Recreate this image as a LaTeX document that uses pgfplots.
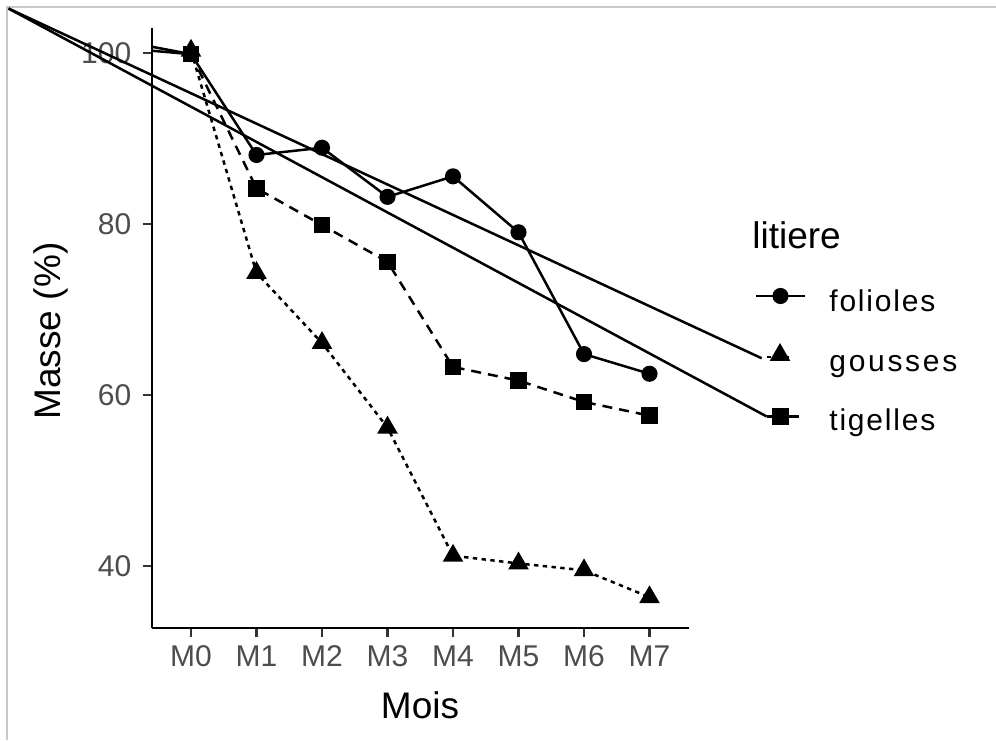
\documentclass[border=0pt]{standalone}
\usepackage{fontspec}
\setmainfont{Liberation Sans}
\usepackage{pgfplots}
\pgfplotsset{compat=1.18}
\definecolor{tickgray}{HTML}{4D4D4D}
\definecolor{bordergray}{HTML}{C8C8C8}
\begin{document}
\begin{tikzpicture}
\useasboundingbox (0,0) rectangle (498pt,-370pt);
\draw[bordergray, line width=1pt] (3.5pt,-370pt) -- (3.5pt,-3.5pt) -- (498pt,-3.5pt);
\begin{axis}[
  at={(75.85pt,-314.15pt)}, anchor=south west,
  scale only axis, width=268.55pt, height=300.15pt,
  xmin=-0.6, xmax=7.6, ymin=32.71, ymax=102.96,
  axis x line*=bottom, axis y line*=left,
  axis line style={line width=1.1pt, -},
  xtick={0,1,2,3,4,5,6,7},
  xticklabels={M0,M1,M2,M3,M4,M5,M6,M7},
  ytick={40,60,80,100},
  tick align=outside, major tick length=4.5pt,
  tick style={line width=1.1pt, color=black!80},
  ticklabel style={font=\fontsize{15}{15}\selectfont, text=tickgray, inner sep=0pt},
  xticklabel style={anchor=north, yshift=-4pt},
  yticklabel style={anchor=east, xshift=-5.5pt},
  /pgf/number format/assume math mode=true,
  clip=false,
  every axis plot/.append style={line width=1.25pt},
]
% data
\addplot[black, mark=*, mark size=3.4pt] coordinates
  {(0,99.9)(1,88.1)(2,88.95)(3,83.2)(4,85.6)(5,79.05)(6,64.8)(7,62.5)};
\addplot[black, dash pattern=on 2.2pt off 2.2pt, mark=triangle*, mark size=4.7pt, mark options={solid}] coordinates
  {(0,100.3)(1,74.3)(2,66.1)(3,56.2)(4,41.2)(5,40.3)(6,39.5)(7,36.35)};
\addplot[black, dash pattern=on 5pt off 3.5pt, mark=square*, mark size=3.5pt, mark options={solid}] coordinates
  {(0,99.9)(1,84.2)(2,79.9)(3,75.6)(4,63.3)(5,61.7)(6,59.2)(7,57.6)};
% stray segments from the axis edge to M0
\addplot[black] coordinates {(-0.6,100.77)(0,99.9)};
\addplot[black] coordinates {(-0.6,100.3)(0,99.9)};
% stray segments from the top-left corner to the legend keys
\addplot[black] coordinates {(-2.786,105.24)(8.713,64.31)};
\addplot[black] coordinates {(-2.786,105.24)(8.789,57.5)};
% legend keys
\addplot[black] coordinates {(8.626,71.6)(9.374,71.6)};
\addplot[black, only marks, mark=*, mark size=3.4pt] coordinates {(9.0,71.6)};
\addplot[black, dash pattern=on 2.2pt off 2.2pt] coordinates {(8.794,64.46)(9.191,64.46)};
\addplot[black, only marks, mark=triangle*, mark size=4.7pt] coordinates {(8.992,64.7)};
\addplot[black] coordinates {(8.789,57.5)(9.282,57.5)};
\addplot[black, only marks, mark=square*, mark size=3.5pt] coordinates {(9.0,57.5)};
\end{axis}
% titles
\node[anchor=base, inner sep=0pt, font=\fontsize{18.5}{18.5}\selectfont] at (210pt,-359pt) {Mois};
\node[anchor=base, rotate=90, inner sep=0pt, font=\fontsize{18.5}{18.5}\selectfont] at (30pt,-165.5pt) {Masse (\%)};
% legend text
\node[anchor=base west, inner sep=0pt, font=\fontsize{18.5}{18.5}\selectfont] at (376pt,-124.2pt) {litiere};
\node[anchor=base west, inner sep=0pt, font=\fontsize{15}{15}\selectfont\addfontfeature{LetterSpace=6}] at (414.5pt,-155.75pt) {folioles};
\node[anchor=base west, inner sep=0pt, font=\fontsize{15}{15}\selectfont\addfontfeature{LetterSpace=9}] at (414.5pt,-185.5pt) {gousses};
\node[anchor=base west, inner sep=0pt, font=\fontsize{15}{15}\selectfont\addfontfeature{LetterSpace=6}] at (414.5pt,-215.25pt) {tigelles};
\end{tikzpicture}
\end{document}
